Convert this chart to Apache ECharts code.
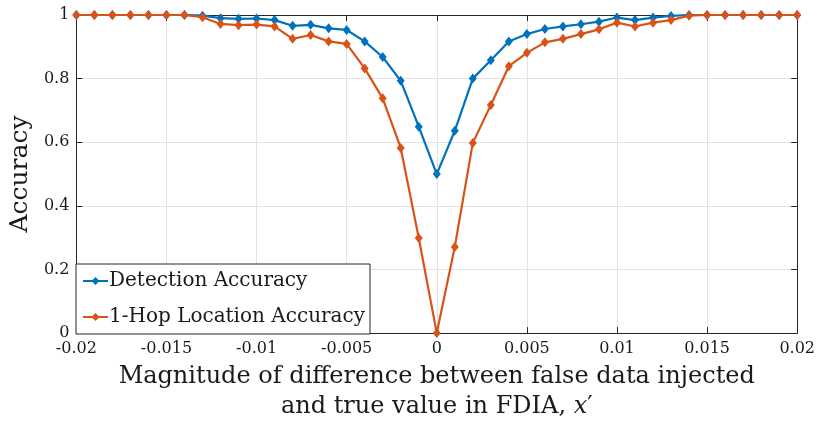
<!DOCTYPE html>
<html>
<head>
<meta charset="utf-8">
<script src="https://cdn.jsdelivr.net/npm/echarts@6/dist/echarts.min.js"></script>
<style>
  html, body { margin: 0; padding: 0; background: #fff; overflow: hidden; }
  #chart { width: 818px; height: 427px; }
</style>
</head>
<body>
<div id="chart"></div>
<script>
// x' values (difference between injected false data and true value)
const xValues = [
  -0.020, -0.019, -0.018, -0.017, -0.016, -0.015, -0.014, -0.013, -0.012, -0.011,
  -0.010, -0.009, -0.008, -0.007, -0.006, -0.005, -0.004, -0.003, -0.002, -0.001,
   0.000,
   0.001,  0.002,  0.003,  0.004,  0.005,  0.006,  0.007,  0.008,  0.009,  0.010,
   0.011,  0.012,  0.013,  0.014,  0.015,  0.016,  0.017,  0.018,  0.019,  0.020
];

const detectionAccuracy = [
  1, 1, 1, 1, 1, 1, 1, 0.998, 0.990, 0.988,
  0.989, 0.984, 0.966, 0.969, 0.958, 0.953, 0.917, 0.868, 0.793, 0.649,
  0.500,
  0.636, 0.800, 0.858, 0.917, 0.940, 0.956, 0.964, 0.971, 0.979, 0.992,
  0.984, 0.992, 0.997, 1, 1, 1, 1, 1, 1, 1
];

const hopLocationAccuracy = [
  1, 1, 1, 1, 1, 1, 1, 0.993, 0.972, 0.968,
  0.970, 0.964, 0.925, 0.937, 0.917, 0.909, 0.832, 0.738, 0.582, 0.299,
  0.000,
  0.271, 0.598, 0.717, 0.839, 0.881, 0.914, 0.925, 0.940, 0.955, 0.976,
  0.964, 0.976, 0.984, 0.998, 1, 1, 1, 1, 1, 1
];

const seriesNames = ['Detection Accuracy', '1-Hop Location Accuracy'];
const xTitle = 'Magnitude of difference between false data injected\nand true value in FDIA, {it|x}′';
const yTitle = 'Accuracy';

const FONT = '"DejaVu Serif", "Liberation Serif", serif';
const AXIS_COLOR = '#262626';
const GRID_COLOR = '#e3e3e3';
const TEXT_COLOR = '#1a1a1a';

const pairs = ys => xValues.map((x, i) => [x, ys[i]]);
const fmtX = v => String(parseFloat(v.toFixed(3)));
const fmtY = v => String(parseFloat(v.toFixed(1)));

const chart = echarts.init(document.getElementById('chart'), null, { renderer: 'canvas' });

const baseX = {
  type: 'value', min: -0.02, max: 0.02, interval: 0.005,
  axisLine: { show: true, onZero: false, lineStyle: { color: AXIS_COLOR, width: 1 } },
  axisTick: { show: true, inside: true, length: 6, lineStyle: { color: AXIS_COLOR } }
};
const baseY = {
  type: 'value', min: 0, max: 1, interval: 0.2,
  axisLine: { show: true, onZero: false, lineStyle: { color: AXIS_COLOR, width: 1 } },
  axisTick: { show: true, inside: true, length: 6, lineStyle: { color: AXIS_COLOR } }
};

chart.setOption({
  animation: false,
  backgroundColor: '#fff',
  grid: { left: 76, right: 17, top: 15, bottom: 90, containLabel: false },
  xAxis: [
    Object.assign({}, baseX, {
      position: 'bottom',
      axisLabel: { show: true, color: TEXT_COLOR, fontFamily: FONT, fontSize: 16, margin: 8, formatter: fmtX },
      splitLine: { show: true, lineStyle: { color: GRID_COLOR, width: 1 } },
      name: xTitle,
      nameLocation: 'middle',
      nameGap: 28,
      nameTextStyle: {
        color: TEXT_COLOR, fontFamily: FONT, fontSize: 24, lineHeight: 30,
        verticalAlign: 'top', align: 'center',
        rich: { it: { fontFamily: FONT, fontStyle: 'italic', fontSize: 24 } }
      }
    }),
    Object.assign({}, baseX, {
      position: 'top',
      axisLabel: { show: false },
      splitLine: { show: false }
    })
  ],
  yAxis: [
    Object.assign({}, baseY, {
      position: 'left',
      axisLabel: { show: true, color: TEXT_COLOR, fontFamily: FONT, fontSize: 16, margin: 7, formatter: fmtY },
      splitLine: { show: true, lineStyle: { color: GRID_COLOR, width: 1 } },
      name: yTitle,
      nameLocation: 'middle',
      nameGap: 42,
      nameRotate: 90,
      nameTextStyle: { color: TEXT_COLOR, fontFamily: FONT, fontSize: 25 }
    }),
    Object.assign({}, baseY, {
      position: 'right',
      axisLabel: { show: false },
      splitLine: { show: false }
    })
  ],
  legend: {
    left: 76, top: 264,
    orient: 'vertical',
    backgroundColor: '#fff',
    borderColor: AXIS_COLOR,
    borderWidth: 1,
    borderRadius: 0,
    padding: [7, 5, 7, 6],
    itemWidth: 25,
    itemHeight: 10,
    itemGap: 16,
    textStyle: { color: TEXT_COLOR, fontFamily: FONT, fontSize: 20, padding: [0, 0, 0, -4] },
    data: seriesNames
  },
  series: [
    {
      name: seriesNames[0], type: 'line', xAxisIndex: 0, yAxisIndex: 0,
      data: pairs(detectionAccuracy),
      color: '#0072BD',
      lineStyle: { width: 2.2, color: '#0072BD' },
      symbol: 'diamond', symbolSize: [8, 10], showAllSymbol: true,
      itemStyle: { color: '#0072BD' },
      z: 3
    },
    {
      name: seriesNames[1], type: 'line', xAxisIndex: 0, yAxisIndex: 0,
      data: pairs(hopLocationAccuracy),
      color: '#D95319',
      lineStyle: { width: 2.2, color: '#D95319' },
      symbol: 'diamond', symbolSize: [8, 10], showAllSymbol: true,
      itemStyle: { color: '#D95319' },
      z: 4
    }
  ]
});
</script>
</body>
</html>
